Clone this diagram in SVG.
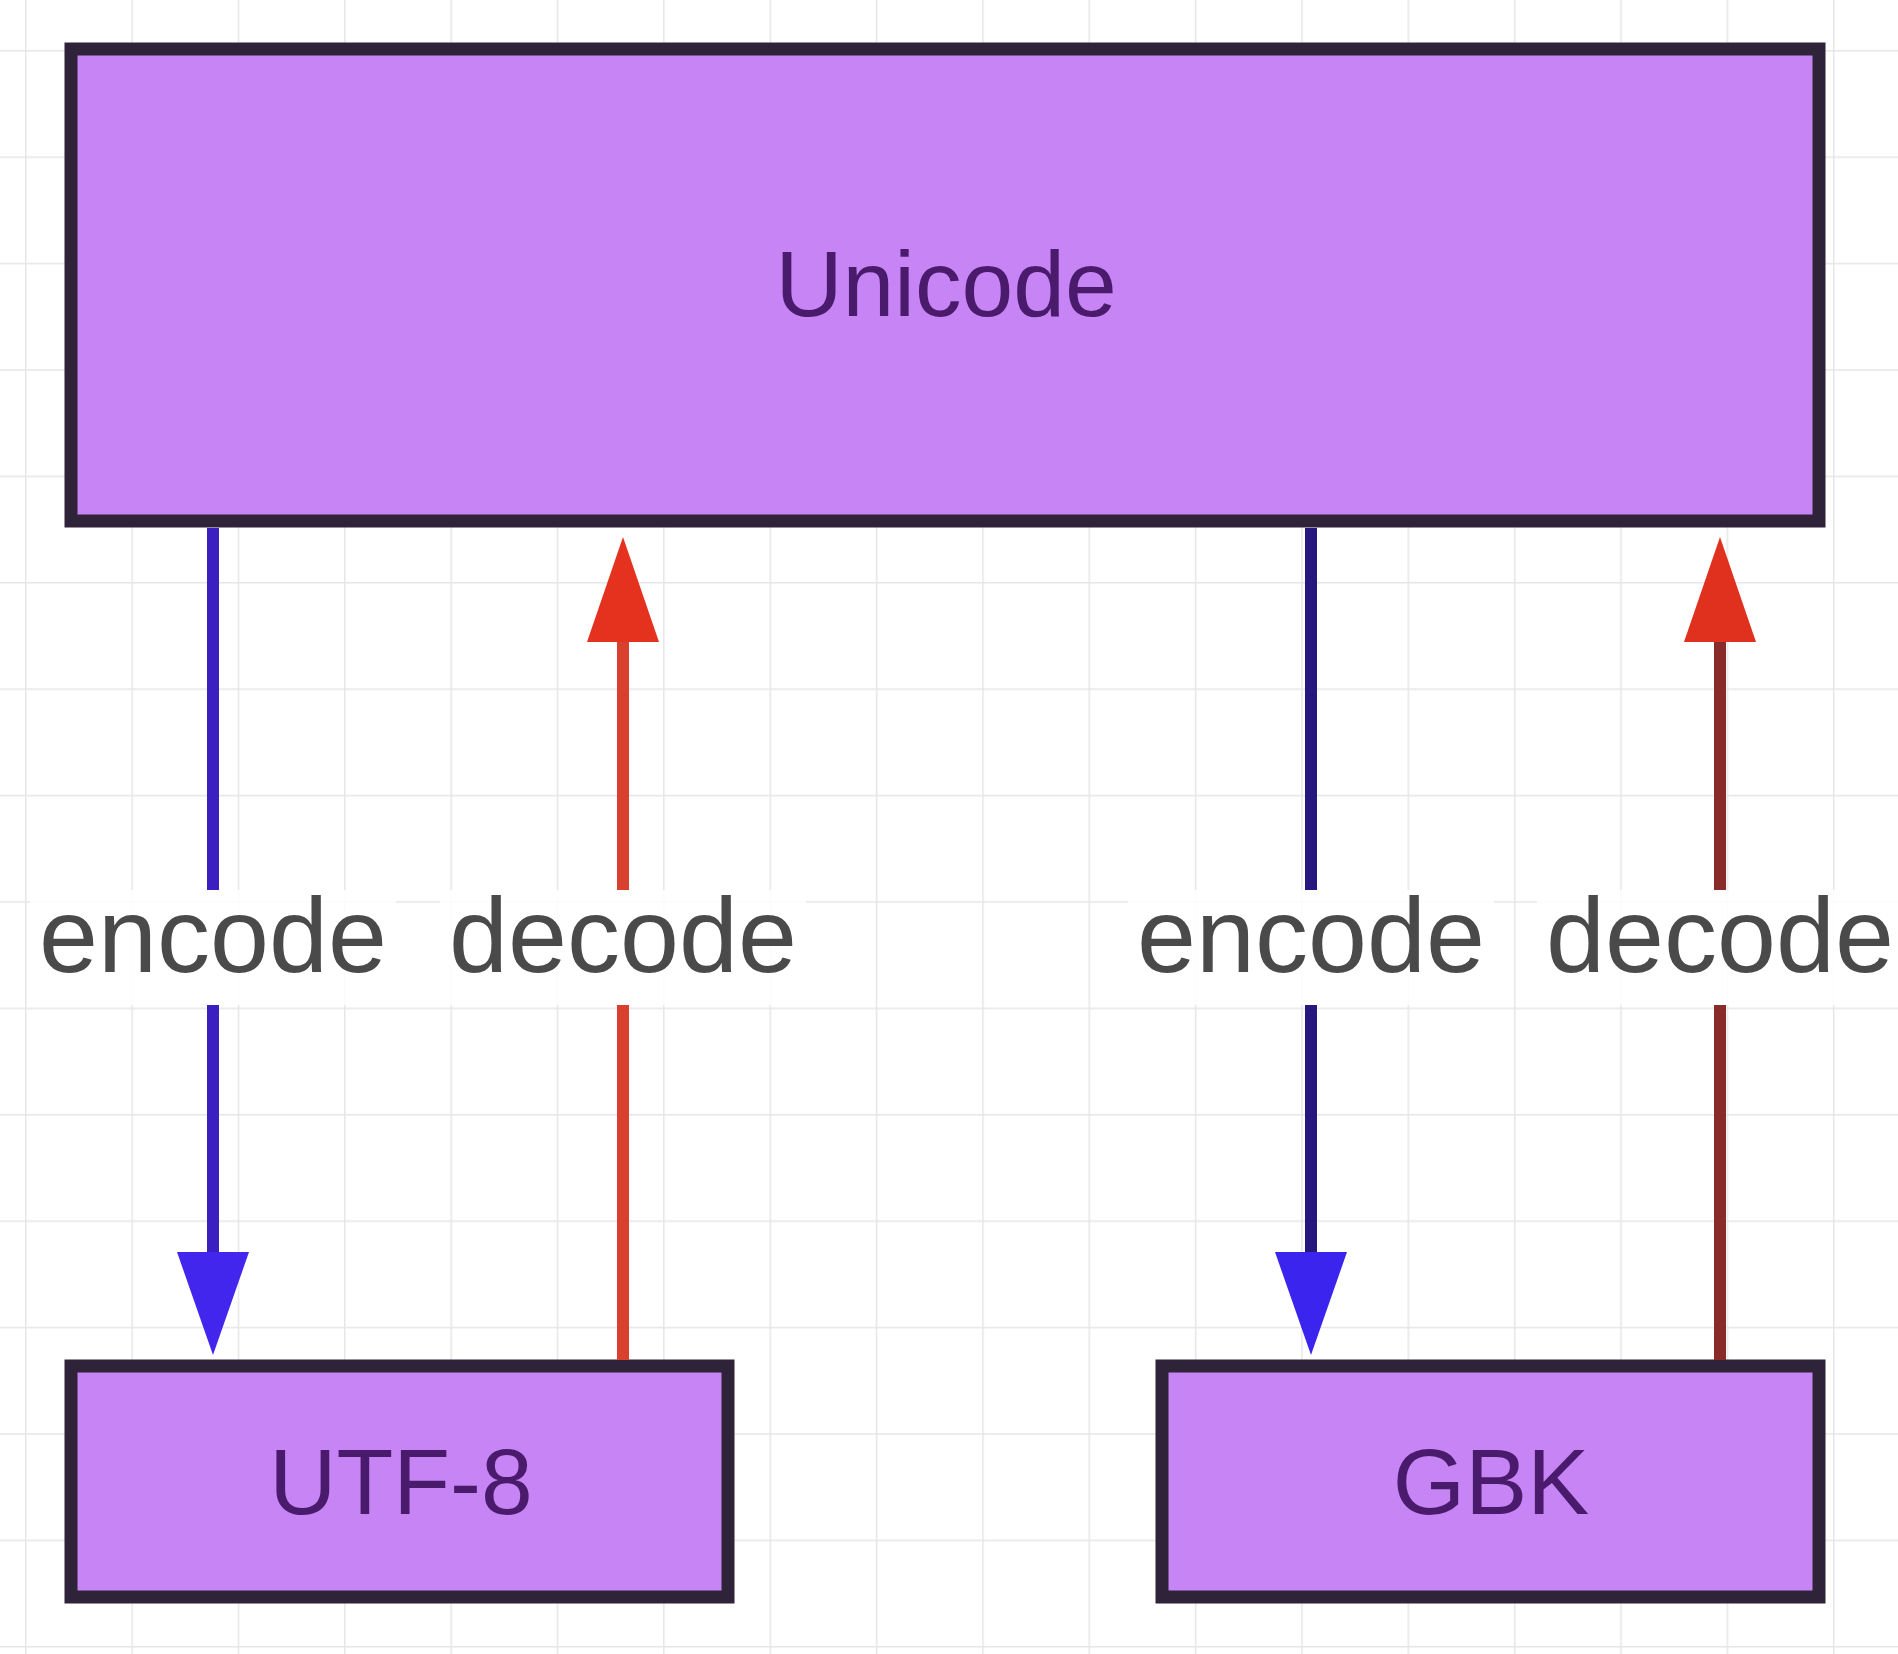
<svg xmlns="http://www.w3.org/2000/svg" width="1898" height="1654" viewBox="0 0 1898 1654">
  <defs>
    <pattern id="grid" patternUnits="userSpaceOnUse" x="25" y="50" width="106.35" height="106.4">
      <path d="M0 0 H106.35 M0 0 V106.4" fill="none" stroke="#e6e6e6" stroke-width="3"/>
    </pattern>
    <style>
      .box { fill: #c784f5; stroke: #2e2338; stroke-width: 13; }
      .boxtext { font-family: "Liberation Sans", Arial, sans-serif; font-size: 93px; fill: #4a1a6c; text-anchor: middle; }
      .label { font-family: "Liberation Sans", Arial, sans-serif; font-size: 106px; fill: #4a4a4a; text-anchor: middle; }
      .labelbg { fill: #ffffff; fill-opacity: 0.85; }
      .conn { fill: none; stroke-width: 12; }
    </style>
  </defs>
  <rect x="0" y="0" width="1898" height="1654" fill="#ffffff"/>
  <rect x="0" y="0" width="1898" height="1654" fill="url(#grid)"/>

  <g id="unicode">
    <rect class="box" x="71" y="49" width="1748" height="472"/>
    <text class="boxtext" x="946" y="316">Unicode</text>
  </g>
  <g id="utf8">
    <rect class="box" x="71" y="1366" width="657" height="231"/>
    <text class="boxtext" x="401" y="1514">UTF-8</text>
  </g>
  <g id="gbk">
    <rect class="box" x="1162" y="1366" width="657" height="231"/>
    <text class="boxtext" x="1491" y="1514">GBK</text>
  </g>

  <g id="connectors">
    <g id="utf8-encode">
      <path class="conn" d="M213 528 V890 M213 1005 V1256" stroke="#3b1fc0"/>
      <polygon points="177,1252 249,1252 213,1355" fill="#4326ee"/>
      <rect class="labelbg" x="30" y="890" width="366" height="115"/>
      <text class="label" x="213" y="972">encode</text>
    </g>
    <g id="utf8-decode">
      <path class="conn" d="M623 1360 V1005 M623 890 V638" stroke="#d9412e"/>
      <polygon points="587,642 659,642 623,537" fill="#e5321e"/>
      <rect class="labelbg" x="440" y="890" width="366" height="115"/>
      <text class="label" x="623" y="972">decode</text>
    </g>
    <g id="gbk-encode">
      <path class="conn" d="M1311 528 V890 M1311 1005 V1256" stroke="#25177d"/>
      <polygon points="1275,1252 1347,1252 1311,1355" fill="#3a24ee"/>
      <rect class="labelbg" x="1128" y="890" width="366" height="115"/>
      <text class="label" x="1311" y="972">encode</text>
    </g>
    <g id="gbk-decode">
      <path class="conn" d="M1720 1360 V1005 M1720 890 V638" stroke="#8a2b2b"/>
      <polygon points="1684,642 1756,642 1720,537" fill="#e0301e"/>
      <rect class="labelbg" x="1537" y="890" width="366" height="115"/>
      <text class="label" x="1720" y="972">decode</text>
    </g>
  </g>
</svg>
